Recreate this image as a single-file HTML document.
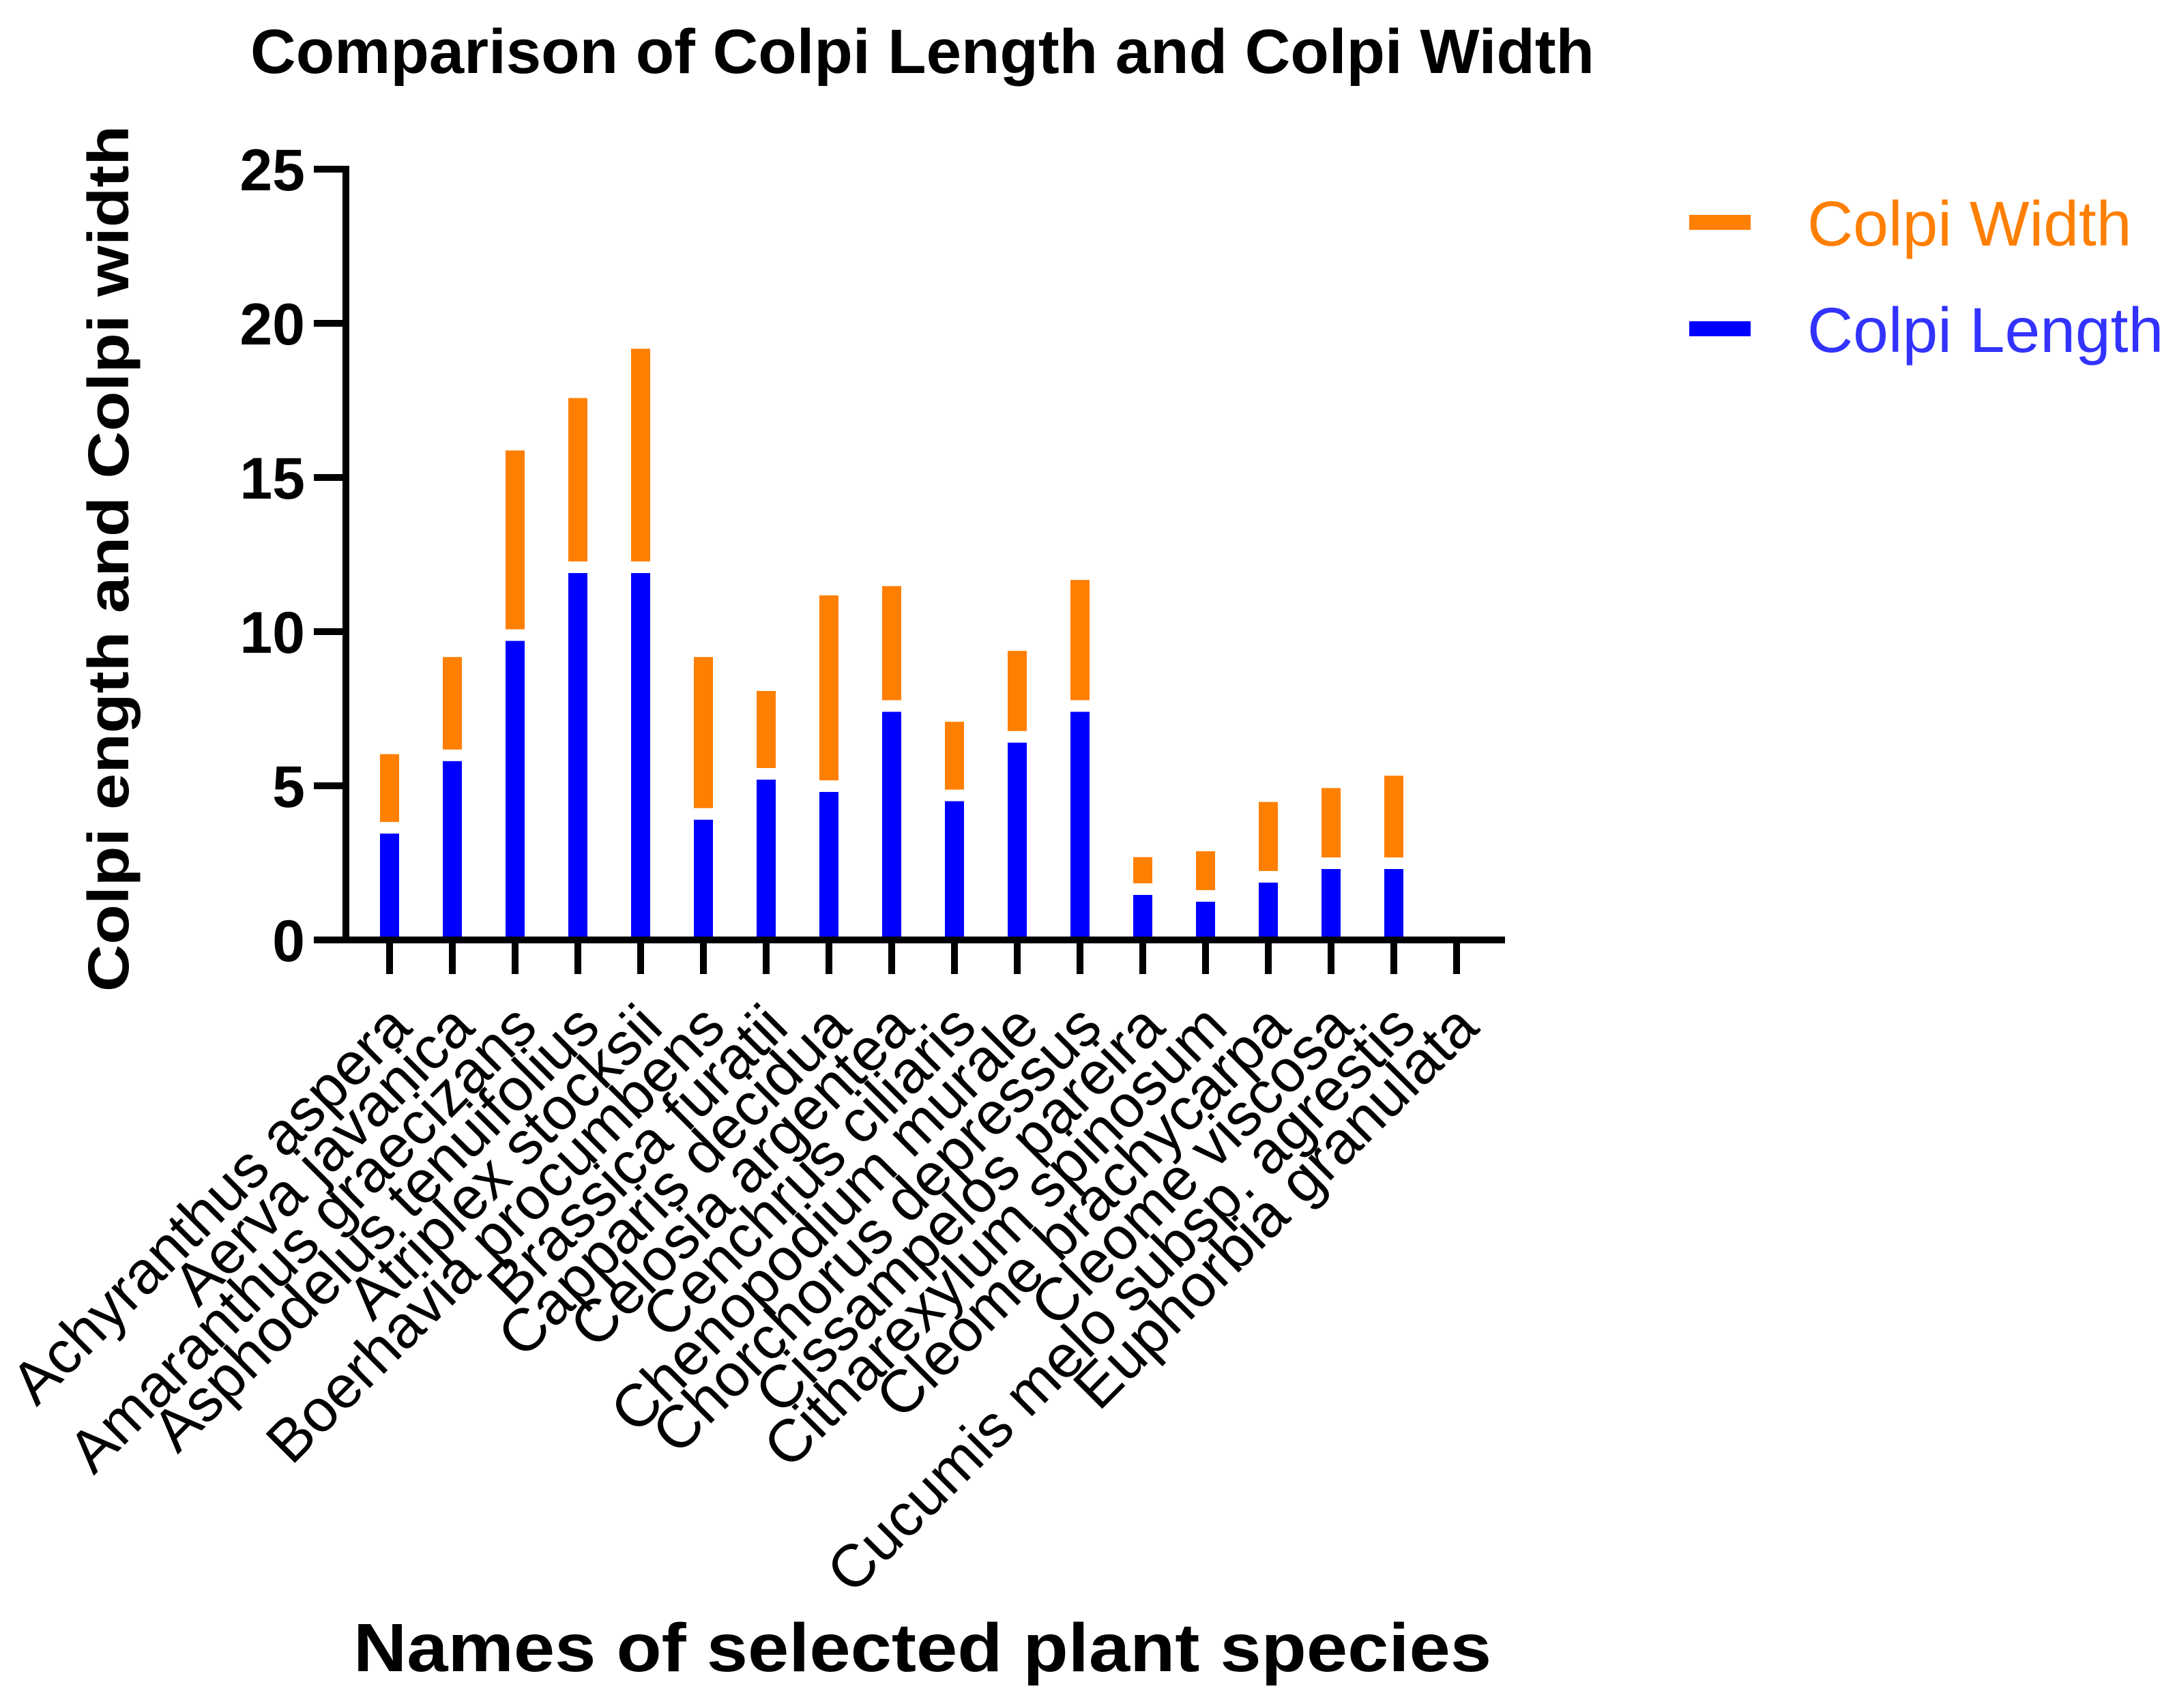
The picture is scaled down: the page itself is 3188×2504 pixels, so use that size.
<!DOCTYPE html>
<html><head><meta charset="utf-8"><style>
html,body{margin:0;padding:0;background:#fff;}
svg{display:block;font-family:"Liberation Sans",Arial,sans-serif;}
</style></head><body>
<svg id="chart" width="3188" height="2504" viewBox="0 0 3188 2504" xmlns="http://www.w3.org/2000/svg">
<rect width="3188" height="2504" fill="#fff"/>
<text x="367" y="107" font-size="92" font-weight="bold" textLength="1970" lengthAdjust="spacingAndGlyphs">Comparison of Colpi Length and Colpi Width</text>
<text transform="translate(188,1454) rotate(-90)" font-size="84" font-weight="bold" textLength="1270" lengthAdjust="spacingAndGlyphs">Colpi ength and  Colpi  width</text>
<text x="518" y="2450" font-size="100" font-weight="bold" textLength="1668" lengthAdjust="spacingAndGlyphs">Names of selected plant species</text>
<g id="plot"></g>
<g>
  <g>
    <rect x="2476" y="315" width="90" height="22" fill="#FF7F00"/>
    <text x="2649" y="360" font-size="93" fill="#FF7F00">Colpi Width</text>
  </g>
  <g>
    <rect x="2476" y="471" width="90" height="22" fill="#0000FF"/>
    <text x="2649" y="516" font-size="93" fill="#3333FF">Colpi Length</text>
  </g>
</g>
</svg>
<script>
const categories = ["Achyranthus aspera","Aerva javanica","Amaranthus graecizans","Asphodelus tenuifolius","Atriplex stocksii","Boerhavia procumbens","Brassica furatii","Capparis decidua","Celosia argentea","Cenchrus ciliaris","Chenopodium murale","Chorchorus depressus","Cissampelos pareira","Citharexylum spinosum","Cleome brachycarpa","Cleome viscosa","Cucumis melo subsp. agrestis","Euphorbia granulata"];
const colpiLength = [3.45,5.8,9.7,11.9,11.9,3.9,5.2,4.8,7.4,4.5,6.4,7.4,1.46,1.24,1.86,2.3,2.3,0];
const colpiWidth = [2.2,3.0,5.8,5.3,6.9,4.9,2.5,6.0,3.7,2.2,2.6,3.9,0.85,1.26,2.24,2.25,2.65,0];
const yTicks = [0,5,10,15,20,25];

const NS = "http://www.w3.org/2000/svg";
const plot = document.getElementById("plot");
const X0 = 507, XEND = 2206, Y0 = 1378, PX_PER_UNIT = 45.2, FIRST = 571, STEP = 92, BARW = 28, GAP = 17;
function yScale(v){ return Y0 - v * PX_PER_UNIT; }
function xScale(i){ return FIRST + i * STEP; }
function mk(tag, attrs){ const e = document.createElementNS(NS, tag); for (const k in attrs) e.setAttribute(k, attrs[k]); plot.appendChild(e); return e; }

categories.forEach((c, i) => {
  const cx = xScale(i);
  const L = colpiLength[i], W = colpiWidth[i];
  if (L > 0) {
    const b = mk("rect", {x: cx - BARW/2, y: yScale(L), width: BARW, height: Y0 - yScale(L), fill: "#0000FF"});
    
    
  }
  if (W > 0) {
    const top = yScale(L) - GAP;
    const o = mk("rect", {x: cx - BARW/2, y: top - W * PX_PER_UNIT, width: BARW, height: W * PX_PER_UNIT, fill: "#FF7F00"});
    
    
  }
  const t = mk("line", {x1: cx, y1: Y0, x2: cx, y2: 1428, stroke: "#000", "stroke-width": 10});
  
  
  const lb = mk("text", {transform: "translate(" + (cx + 36) + ",1510) rotate(-45)", "text-anchor": "end", "font-size": 88});
  lb.textContent = c;
  
  
});

yTicks.forEach(v => {
  const y = yScale(v);
  const t = mk("line", {x1: 460, y1: y, x2: X0, y2: y, stroke: "#000", "stroke-width": 10});
  
  
  const lb = mk("text", {x: 447, y: y + 31, "text-anchor": "end", "font-size": 86, "font-weight": "bold"});
  lb.textContent = v;
  
  
});

const ya = mk("line", {x1: X0, y1: yScale(25) - 5, x2: X0, y2: Y0 + 5, stroke: "#000", "stroke-width": 10});


const xa = mk("line", {x1: X0 - 5, y1: Y0, x2: XEND, y2: Y0, stroke: "#000", "stroke-width": 10});


</script>
</body></html>
